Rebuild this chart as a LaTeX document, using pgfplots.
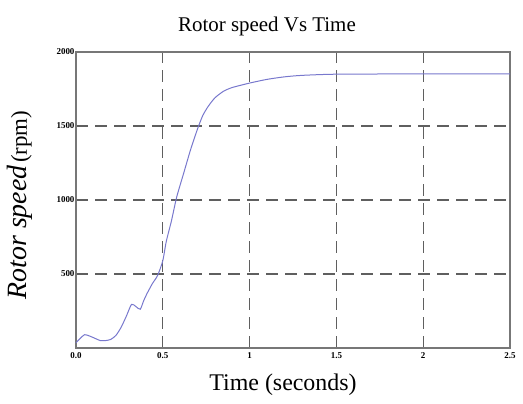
\documentclass[border=0pt]{standalone}
\usepackage{fontspec}
\setmainfont{Liberation Serif}
\usepackage{pgfplots}
\pgfplotsset{compat=1.18}
\definecolor{curve}{RGB}{120,120,205}
\definecolor{gridc}{RGB}{95,95,95}
\begin{document}
\begin{tikzpicture}
\path[use as bounding box] (0,0) rectangle (523bp,404bp);
\begin{axis}[
  at={(76bp,56bp)}, anchor=south west,
  scale only axis, width=434bp, height=296bp,
  xmin=0, xmax=2.5, ymin=0, ymax=2000,
  xtick={0,0.5,1,1.5,2,2.5},
  xticklabels={0.0,0.5,1,1.5,2,2.5},
  ytick={500,1000,1500,2000},
  yticklabels={500,1000,1500,2000},
  tick label style={font=\fontsize{9}{10}\selectfont\bfseries},
  xticklabel style={yshift=-1bp},
  yticklabel style={xshift=2bp},
  /pgf/number format/assume math mode=true,
  major tick length=0pt,
  axis line style={draw=gridc!85, line width=1.2bp},
  grid=major,
  major grid style={draw=gridc, line width=1.2bp, dash pattern=on 12bp off 7bp},
  title={Rotor speed Vs Time},
  title style={font=\fontsize{21}{23}\selectfont, at={(axis description cs:0.44,1.05)}, anchor=base},
  xlabel={Time (seconds)},
  xlabel style={font=\fontsize{24}{26}\selectfont, at={(axis description cs:0.477,-0.145)}, anchor=base},
  ylabel={{\fontsize{28}{30}\selectfont\itshape Rotor speed} {\fontsize{23}{25}\selectfont(rpm)}},
  ylabel style={at={(axis description cs:-0.113,0.483)}, anchor=base, rotate=0},
  clip=false,
]
\addplot[curve, line width=1bp, smooth, tension=0.4] coordinates {
(0,35) (0.02,60) (0.05,90) (0.08,80) (0.11,65) (0.14,50) (0.17,50)
(0.2,58) (0.23,85) (0.26,140) (0.29,215) (0.32,295) (0.345,280)
(0.37,262) (0.39,320) (0.41,370) (0.44,435) (0.47,490) (0.50,590)
(0.52,720) (0.55,860) (0.58,1020) (0.62,1180) (0.66,1340) (0.70,1480)
(0.73,1570) (0.76,1630) (0.80,1690) (0.85,1735) (0.90,1760) (1.0,1790)
(1.1,1815) (1.2,1832) (1.3,1842) (1.5,1850) (2.0,1852) (2.5,1852)
};
\end{axis}
\end{tikzpicture}
\end{document}
